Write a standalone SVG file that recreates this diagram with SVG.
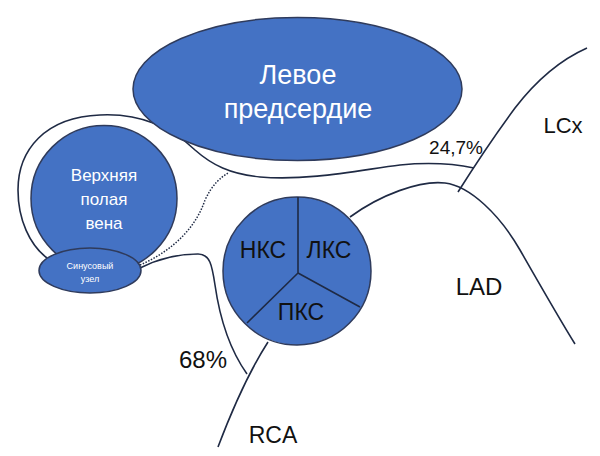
<svg xmlns="http://www.w3.org/2000/svg" width="600" height="456" viewBox="0 0 600 456">
<style>
.node{fill:#4472C4;stroke:#2F3B5C;stroke-width:1.5}
.ln{fill:none;stroke:#1F2A44;stroke-width:1.6}
.dot{fill:none;stroke:#1F2A44;stroke-width:1.5;stroke-dasharray:1.5 1.5}
.w{fill:#FFFFFF;font-family:"Liberation Sans",Arial,sans-serif;text-anchor:middle}
.k{fill:#111111;font-family:"Liberation Sans",Arial,sans-serif;text-anchor:middle}
</style>
<rect width="600" height="456" fill="#FFFFFF"/>
<g id="connectors">
<path class="ln" d="M47,258 C30,245 18,220 18,190 C18,150 45,117 100,115 C140,113 172,128 195,150 C212,165 230,174 260,177 C310,181 360,170 400,165 C430,162 455,164 474,168"/>
<path class="dot" d="M140,265 C170,252 195,230 205,200 C212,185 220,178 228,173"/>
<path class="ln" d="M140,268 C160,258 180,254 198,254 C210,254 212,265 215,285 C220,320 230,350 247,374"/>
<path class="ln" d="M268,342 C250,370 232,410 218,447"/>
<path class="ln" d="M350,217 C380,195 420,180 445,183 C470,186 500,215 520,250 C540,285 560,320 575,344"/>
<path class="ln" d="M458,192 C475,165 495,135 515,108 C535,82 560,60 587,48"/>
</g>
<g id="left-atrium">
<ellipse class="node" cx="297.5" cy="89" rx="164.5" ry="71.5"/>
<text class="w" x="298" y="84" font-size="27">Левое</text>
<text class="w" x="298" y="118" font-size="27">предсердие</text>
</g>
<g id="svc">
<circle class="node" cx="104" cy="198.5" r="73"/>
<text class="w" x="104" y="181" font-size="17">Верхняя</text>
<text class="w" x="104" y="205" font-size="17">полая</text>
<text class="w" x="104" y="229" font-size="17">вена</text>
</g>
<g id="sinus-node">
<ellipse class="node" cx="90" cy="270.5" rx="51" ry="22.5"/>
<text class="w" x="90" y="269" font-size="9">Синусовый</text>
<text class="w" x="90" y="282" font-size="9">узел</text>
</g>
<g id="aortic-valve">
<circle class="node" cx="297" cy="271" r="74"/>
<path class="ln" d="M298,273 L298,197 M298,273 L360,307 M298,273 L247,323" stroke="#1F2A44"/>
<text class="k" x="263" y="258" font-size="23">НКС</text>
<text class="k" x="329" y="258" font-size="23">ЛКС</text>
<text class="k" x="301" y="320" font-size="23">ПКС</text>
</g>
<g id="labels">
<text class="k" x="456" y="154" font-size="19">24,7%</text>
<text class="k" x="563" y="133" font-size="22">LCx</text>
<text class="k" x="479" y="295" font-size="24">LAD</text>
<text class="k" x="203" y="368" font-size="24">68%</text>
<text class="k" x="273" y="443" font-size="23">RCA</text>
</g>
</svg>
